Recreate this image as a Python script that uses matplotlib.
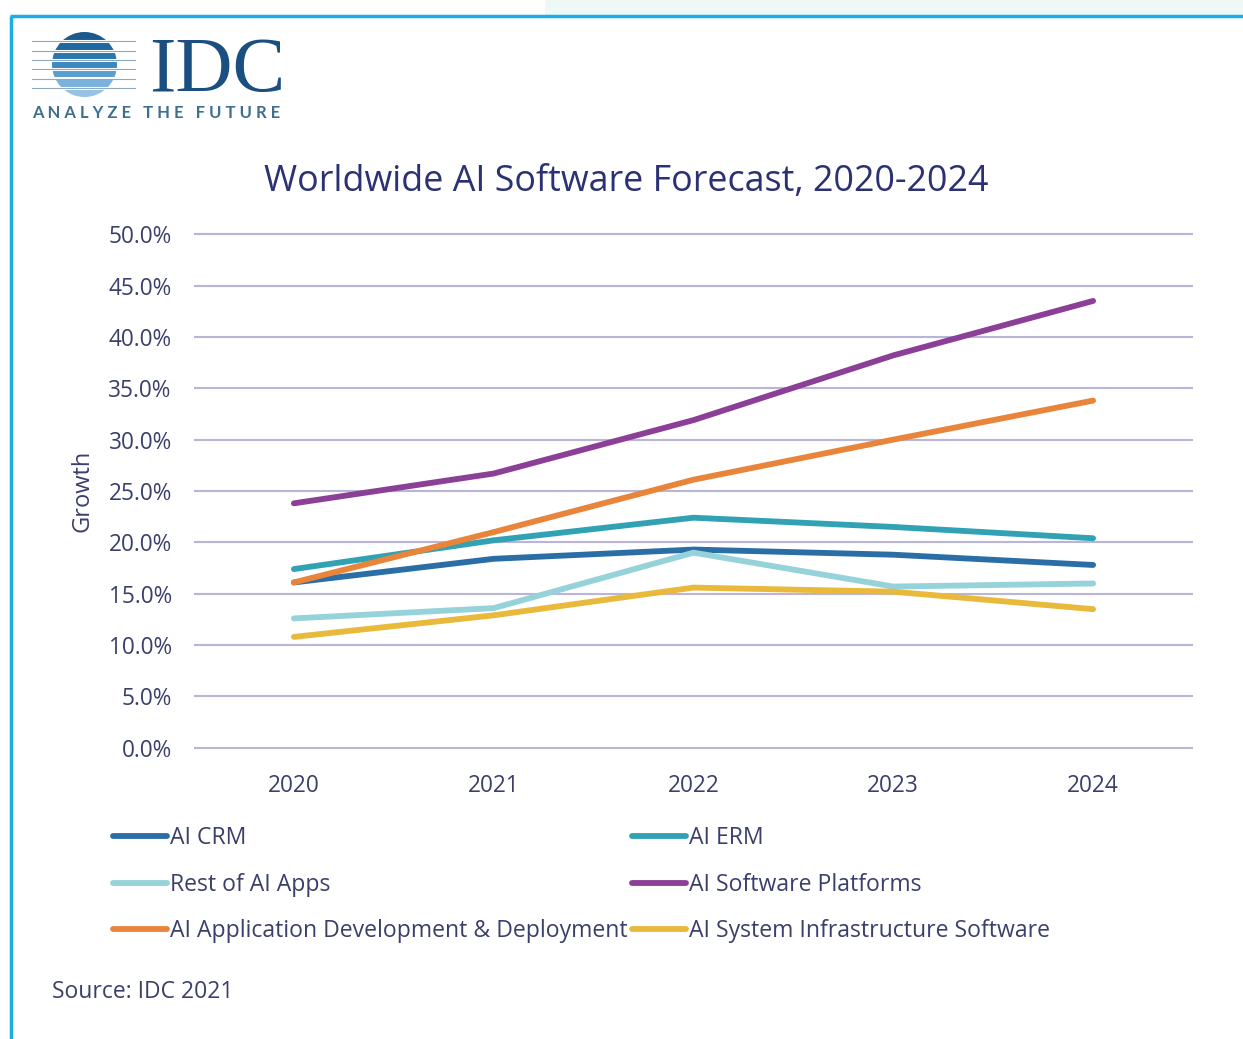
import numpy as np
import matplotlib
matplotlib.use("Agg")
import matplotlib.pyplot as plt
from matplotlib.patches import Circle, Rectangle

plt.rcParams['font.family'] = ['Open Sans', 'DejaVu Sans']

years = ['2020', '2021', '2022', '2023', '2024']
ai_crm = [16.1, 18.4, 19.3, 18.8, 17.8]
ai_erm = [17.4, 20.2, 22.4, 21.5, 20.4]
rest_apps = [12.6, 13.6, 19.0, 15.7, 16.0]
platforms = [23.8, 26.7, 31.9, 38.2, 43.5]
app_dev = [16.1, 21.0, 26.1, 30.0, 33.8]
infra = [10.8, 12.9, 15.6, 15.2, 13.5]
yticks = [0, 5, 10, 15, 20, 25, 30, 35, 40, 45, 50]

W, H = 1243, 1039
fig = plt.figure(figsize=(W / 100, H / 100), dpi=100)
fig.patch.set_facecolor('white')

# background layer in pixel coords: frame + logo
bg = fig.add_axes([0, 0, 1, 1])
bg.set_xlim(0, W)
bg.set_ylim(H, 0)
bg.axis('off')
bg.add_patch(Rectangle((545, 0), W - 545, 15, color='#eef8f5', lw=0))
bg.plot([10, W], [16, 16], color='#19aee8', lw=2.5, solid_capstyle='butt')
bg.plot([11, 11], [16, H], color='#19aee8', lw=2.5, solid_capstyle='butt')

# IDC logo
cx, cy, r = 84.5, 64.5, 32.5
clip = Circle((cx, cy), r, transform=bg.transData)
band_cols = ['#1b5a8e', '#1f68a0', '#2a78b0', '#3d88c0', '#5a9dcf', '#79b2dc', '#94c3e6']
edges = np.linspace(cy - r, cy + r, len(band_cols) + 1)
for i, c in enumerate(band_cols):
    rect = Rectangle((cx - r, edges[i]), 2 * r, edges[i + 1] - edges[i], color=c, lw=0)
    bg.add_patch(rect)
    rect.set_clip_path(clip)
for e in edges[1:-1]:
    bg.plot([32, 135], [e, e], color='white', lw=2.2)
    bg.plot([32, 135], [e + 0.2, e + 0.2], color='#8ea9be', lw=0.8)
bg.text(149, 91, 'IDC', family='Liberation Serif', fontsize=57, color='#1b4f80',
        ha='left', va='baseline')
bg.text(32, 113, 'A N A L Y Z E   T H E   F U T U R E', family='Lato', fontweight='bold',
        fontsize=12, color='#3f6f8e', ha='left', va='center')

# chart
ax = fig.add_axes([194 / W, (H - 753) / H, 999 / W, (753 - 229) / H])
x = np.arange(len(years))
series = [
    (ai_crm, 'AI CRM', '#2b6ea6'),
    (ai_erm, 'AI ERM', '#30a2b4'),
    (rest_apps, 'Rest of AI Apps', '#95d2da'),
    (platforms, 'AI Software Platforms', '#8b3f97'),
    (app_dev, 'AI Application Development & Deployment', '#e9843b'),
    (infra, 'AI System Infrastructure Software', '#e9b93c'),
]
lines = {}
for vals, lab, col in series:
    ln, = ax.plot(x, vals, color=col, lw=4.2, label=lab, solid_capstyle='round')
    lines[lab] = ln

ax.set_xlim(-0.5, 4.5)
ax.set_ylim(-0.5, 50.5)
ax.set_yticks(yticks)
ax.set_yticklabels([f'{v:.1f}%' for v in yticks])
ax.set_xticks(x)
ax.set_xticklabels(years)
ax.tick_params(length=0, labelsize=16.3, labelcolor='#3b3f6b')
ax.tick_params(axis='y', pad=16)
ax.tick_params(axis='x', pad=15)
for s in ax.spines.values():
    s.set_visible(False)
ax.yaxis.grid(True, color='#b9b5d9', lw=1.5)
ax.set_axisbelow(True)
ax.set_ylabel('Growth', fontsize=17, color='#3b3f6b', labelpad=10)

fig.text(626 / W, 1 - 182 / H, 'Worldwide AI Software Forecast, 2020-2024',
         ha='center', va='center', fontsize=25.8, color='#2b3173')

order = ['AI CRM', 'Rest of AI Apps', 'AI Application Development & Deployment',
         'AI ERM', 'AI Software Platforms', 'AI System Infrastructure Software']
leg = fig.legend([lines[k] for k in order], order, ncol=2, frameon=False,
                 loc='upper left', bbox_to_anchor=(113 / W, 1 - 826 / H),
                 borderpad=0, borderaxespad=0, handlelength=2.35, handletextpad=0.13,
                 columnspacing=0.18, labelspacing=0.98, fontsize=16.6)
for t in leg.get_texts():
    t.set_color('#3b3f6b')

fig.text(52 / W, 1 - 992 / H, 'Source: IDC 2021', ha='left', va='center',
         fontsize=16.5, color='#3b3f6b')

fig.savefig('out.png', dpi=100)
